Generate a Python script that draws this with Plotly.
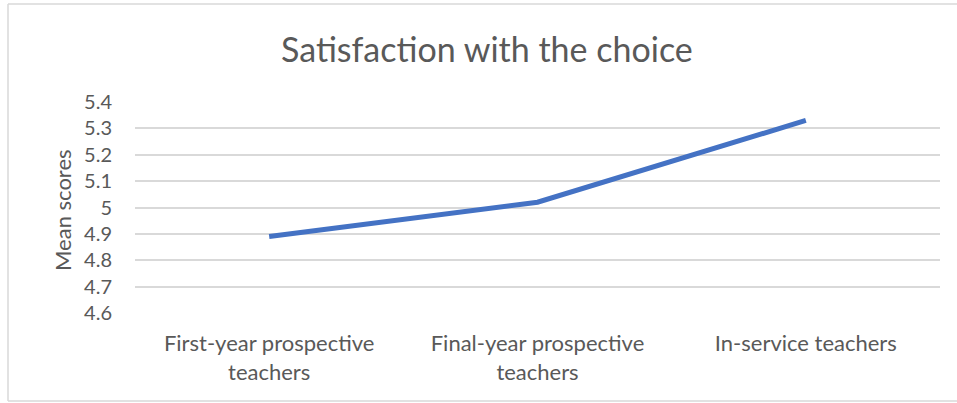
import plotly.graph_objects as go

groups = ['First-year prospective<br>teachers', 'Final-year prospective<br>teachers', 'In-service teachers']
mean_scores = [4.89, 5.02, 5.33]
y_ticks = [4.6, 4.7, 4.8, 4.9, 5.0, 5.1, 5.2, 5.3, 5.4]
y_tick_text = ['4.6', '4.7', '4.8', '4.9', '5', '5.1', '5.2', '5.3', '5.4']

font_name = 'Lato'
grey_text = '#595959'


def px_x(p):
    return (p - 135) / 805


def px_y(p):
    return (313 - p) / 211


fig = go.Figure()
fig.add_trace(
    go.Scatter(
        x=groups,
        y=mean_scores,
        mode='lines',
        line={'color': '#4472C4', 'width': 5},
        hoverinfo='skip'
    )
)

# chart frame: left, top and bottom edges (right edge runs off the page)
frame = [
    (px_x(8), px_y(4), px_x(8), px_y(401)),
    (px_x(8), px_y(4), px_x(960), px_y(4)),
    (px_x(8), px_y(401), px_x(960), px_y(401)),
]

fig.update_layout(
    width=957,
    height=403,
    margin={'l': 135, 'r': 17, 't': 102, 'b': 90, 'autoexpand': False},
    paper_bgcolor='white',
    plot_bgcolor='white',
    showlegend=False,
    font={'family': font_name, 'color': grey_text, 'size': 20},
    shapes=[
        dict(
            type='line', xref='paper', yref='paper',
            x0=a, y0=b, x1=c, y1=d,
            line={'color': '#D9D9D9', 'width': 1.5}, layer='below'
        )
        for a, b, c, d in frame
    ],
    annotations=[
        dict(
            text='Satisfaction with the choice', xref='paper', yref='paper',
            x=px_x(487), y=px_y(48), xanchor='center', yanchor='middle',
            showarrow=False, font={'size': 34, 'color': grey_text, 'family': font_name}
        ),
        dict(
            text='Mean scores', xref='paper', yref='paper',
            x=px_x(62), y=px_y(210), xanchor='center', yanchor='middle',
            textangle=-90, showarrow=False,
            font={'size': 22, 'color': grey_text, 'family': font_name}
        )
    ]
)

fig.update_xaxes(
    range=[-0.5, 2.5],
    automargin=False,
    showgrid=False,
    showline=False,
    zeroline=False,
    ticks='',
    ticklabelstandoff=15,
    tickfont={'size': 22, 'color': grey_text}
)
fig.update_yaxes(
    range=[4.6, 5.4],
    automargin=False,
    tickvals=y_ticks,
    ticktext=y_tick_text,
    showgrid=True,
    gridcolor='#D9D9D9',
    gridwidth=1.5,
    zeroline=False,
    showline=False,
    ticks='',
    ticklabelstandoff=22,
    tickfont={'size': 20, 'color': grey_text}
)

# page body has a default 8px margin; drop it so the figure sits at the corner
fig.write_html(
    'out.html',
    config={'displayModeBar': False},
    post_script="document.body.style.margin='0';"
)
